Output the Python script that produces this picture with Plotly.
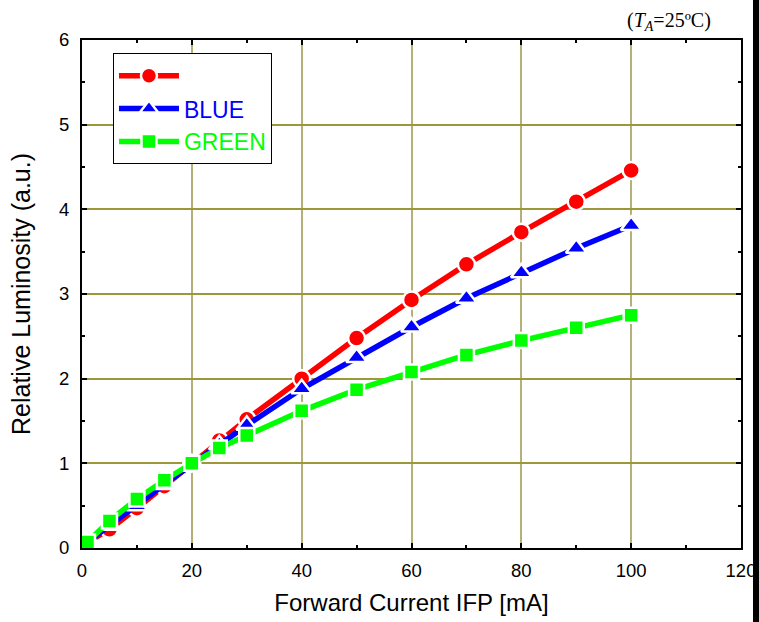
import plotly.graph_objects as go

current = [1, 5, 10, 15, 20, 25, 30, 40, 50, 60, 70, 80, 90, 100]
red = [0.07, 0.22, 0.47, 0.73, 1.0, 1.27, 1.52, 2.0, 2.48, 2.93, 3.35, 3.73, 4.09, 4.46]
blue = [0.07, 0.27, 0.5, 0.75, 0.99, 1.22, 1.45, 1.88, 2.25, 2.61, 2.95, 3.25, 3.54, 3.81]
green = [0.07, 0.32, 0.58, 0.8, 1.0, 1.18, 1.33, 1.62, 1.87, 2.08, 2.28, 2.45, 2.6, 2.75]

series = [
    (red, "#ff0000", "circle", 17, " "),
    (blue, "#0000ff", "triangle-up", 18, "<span style='color:#0000ff'>BLUE</span>"),
    (green, "#00ff00", "square", 15, "<span style='color:#00ff00'>GREEN</span>"),
]

fig = go.Figure()
for ys, col, sym, sz, nm in series:
    fig.add_trace(go.Scatter(
        x=current, y=ys, mode="lines+markers", name=nm,
        line=dict(color=col, width=5.5),
        marker=dict(symbol=sym, size=sz, color=col, line=dict(color="white", width=2.5)),
    ))

font_sans = "Liberation Sans, Arial"
axis_common = dict(
    showline=True, linecolor="black", linewidth=2, mirror="ticks",
    ticks="inside", ticklen=5, tickcolor="black", tickwidth=1.5,
    showgrid=True, gridwidth=1.5, zeroline=False, automargin=False,
    tickfont=dict(family=font_sans, size=18.5, color="black"),
    minor=dict(ticks="inside", ticklen=3, tickcolor="black", showgrid=False),
)

fig.update_xaxes(range=[0, 120], dtick=20, minor_dtick=10, gridcolor="#b5b078",
                 ticklabelstandoff=5,
                 title=dict(text="Forward Current IFP [mA]", font=dict(family=font_sans, size=24, color="black"), standoff=14),
                 **axis_common)
fig.update_yaxes(range=[0, 6], dtick=1, minor_dtick=0.5, gridcolor="#9c9838",
                 ticklabelstandoff=7,
                 title=dict(text="Relative Luminosity (a.u.)", font=dict(family=font_sans, size=25, color="black"), standoff=21),
                 **axis_common)

fig.update_layout(
    width=759, height=622,
    margin=dict(l=82, r=18, t=40, b=74),
    plot_bgcolor="white", paper_bgcolor="white",
    showlegend=True,
    legend=dict(x=0.047, y=0.974, xanchor="left", yanchor="top",
                bgcolor="white", bordercolor="black", borderwidth=1,
                font=dict(family=font_sans, size=23, color="black"),
                itemwidth=60, tracegroupgap=0),
    annotations=[dict(
        text="(<i>T<sub>A</sub></i>=25ºC)", xref="paper", yref="paper",
        x=0.958, y=1.0, xanchor="right", yanchor="bottom", yshift=4, showarrow=False,
        font=dict(family="Liberation Serif, Times New Roman", size=20, color="black"),
    )],
    shapes=[dict(type="rect", xref="paper", yref="paper", layer="above",
                 x0=1.0182, x1=1.04, y0=-0.3, y1=1.3,
                 fillcolor="black", line=dict(width=0))],
)

fig.write_html("out.html", config={"displayModeBar": False},
               post_script="document.body.style.margin='0';document.body.style.overflow='hidden';")
